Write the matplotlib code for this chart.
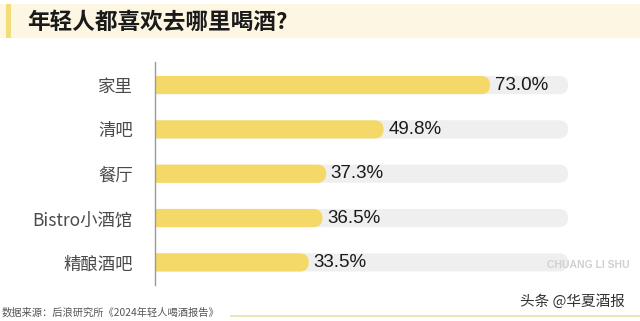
import matplotlib

matplotlib.use("Agg")
import matplotlib.pyplot as plt
from matplotlib.patches import FancyBboxPatch, Rectangle
from matplotlib.lines import Line2D

plt.rcParams["font.family"] = ["Noto Sans CJK SC", "DejaVu Sans"]

# data
categories = ["家里", "清吧", "餐厅", "Bistro小酒馆", "精酿酒吧"]
values = [73.0, 49.8, 37.3, 36.5, 33.5]
track_max = 90.0
title = "年轻人都喜欢去哪里喝酒?"
source = "数据来源：后浪研究所《2024年轻人喝酒报告》"

YELLOW = "#F5D968"
TRACK = "#EFEFEF"
W, H = 640, 321

fig = plt.figure(figsize=(W / 100, H / 100), dpi=100)
fig.patch.set_facecolor("white")

# title band
fig.add_artist(Rectangle((0, 1 - 38 / H), 1, 34 / H, transform=fig.transFigure,
                         facecolor="#FDF6E3", edgecolor="none"))
fig.add_artist(Rectangle((6 / W, 1 - 38 / H), 5 / W, 34 / H, transform=fig.transFigure,
                         facecolor="#F3DD7A", edgecolor="none"))
fig.text(27 / W, 1 - 22 / H, title, fontsize=16.3, fontweight="bold", color="#1a1a1a",
         va="center", ha="left")

ax = fig.add_axes([155 / W, 36 / H, 459 / W, 223 / H])
ax.set_xlim(0, 100)
ax.set_ylim(4.51, -0.52)

# rounded ends need the pixel aspect of the data units
fig.canvas.draw()
x_px = ax.transData.transform((1, 0))[0] - ax.transData.transform((0, 0))[0]
y_px = abs(ax.transData.transform((0, 1))[1] - ax.transData.transform((0, 0))[1])
aspect = x_px / y_px
bar_h = 0.41
rad = (bar_h / 2) / aspect


def rounded_bar(y, end, color, z):
    p = FancyBboxPatch((-5, y - bar_h / 2), end + 5, bar_h,
                       boxstyle=f"round,pad=0,rounding_size={rad}",
                       mutation_aspect=aspect, facecolor=color, edgecolor="none", zorder=z)
    ax.add_patch(p)


for i, v in enumerate(values):
    rounded_bar(i, track_max, TRACK, 1)
    rounded_bar(i, v, YELLOW, 2)
    ax.text(v + 1.0, i, f"{v:.1f}%", va="center", ha="left", fontsize=13.5,
            color="#1a1a1a", family=["Liberation Sans", "DejaVu Sans"], zorder=3)

ax.set_yticks(range(len(categories)))
ax.set_yticklabels(categories, fontsize=12.5, color="#4a4a4a")
ax.tick_params(axis="y", length=0, pad=16)
ax.set_xticks([])
for s in ["top", "right", "bottom"]:
    ax.spines[s].set_visible(False)
ax.spines["left"].set_color("#9a9a9a")
ax.spines["left"].set_linewidth(1.0)
ax.spines["left"].set_zorder(4)

# footer
fig.text(2 / W, 1 - 313 / H, source, fontsize=7.4, color="#555555", va="center", ha="left")
fig.add_artist(Line2D([231 / W, 1], [1 - 316 / H, 1 - 316 / H], transform=fig.transFigure,
                      color="#E6E0A8", lw=1.2))

# watermark
fig.text(630 / W, 1 - 265 / H, "CHUANG LI SHU", fontsize=7.5, fontweight="bold",
         color="#d0d0d0", va="center", ha="right", family=["Liberation Sans", "DejaVu Sans"])
fig.text(520 / W, 1 - 302 / H, "头条 @华夏酒报", fontsize=10.5, color="#333333",
         va="center", ha="left")

fig.savefig("out.png", dpi=100)
